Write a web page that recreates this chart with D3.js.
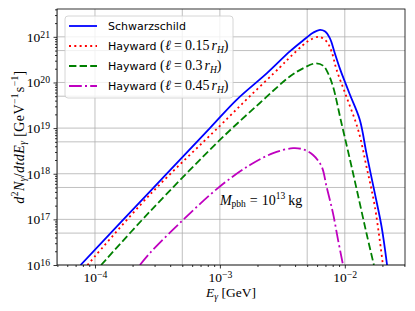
<!DOCTYPE html>
<html>
<head>
<meta charset="utf-8">
<script src="https://cdn.jsdelivr.net/npm/d3@7"></script>
<style>
  body { margin: 0; background: #fff; }
  svg text { fill: #000; }
</style>
</head>
<body>
<div id="chart"></div>
<script>
// photon spectra, E in GeV, d2N/dtdE in GeV^-1 s^-1
const schwE = [7.67e-5, 2.75e-4, 8.32e-4, 1.36e-3, 2.37e-3, 3.63e-3, 4.63e-3, 5.57e-3, 6.22e-3, 6.92e-3, 7.59e-3, 8.32e-3, 9.12e-3, 1.0e-2, 1.10e-2, 1.32e-2, 1.49e-2, 1.74e-2, 1.97e-2, 2.18e-2];
const schwN = [1e16, 4.07e17, 1e19, 4.17e19, 1.58e20, 4.79e20, 8.32e20, 1.23e21, 1.41e21, 1.32e21, 9.33e20, 4.37e20, 2.04e20, 1.05e20, 5.37e19, 1.51e19, 2.82e18, 3.72e17, 6.92e16, 1e16];

const hay015E = [8.71e-5, 2.75e-4, 1.0e-3, 1.74e-3, 3.02e-3, 3.63e-3, 4.63e-3, 5.25e-3, 6.22e-3, 7.14e-3, 7.83e-3, 8.59e-3, 1.03e-2, 1.28e-2, 1.49e-2, 1.74e-2, 2.02e-2];
const hay015N = [1e16, 3.47e17, 1.12e19, 5.01e19, 2.14e20, 3.55e20, 6.61e20, 8.51e20, 1.0e21, 7.94e20, 4.79e20, 1.91e20, 4.90e19, 9.12e18, 1.45e18, 1.91e17, 1e16];

const hay03E = [1.12e-4, 2.75e-4, 1.0e-3, 2.09e-3, 3.63e-3, 4.63e-3, 5.86e-3, 6.70e-3, 7.35e-3, 8.05e-3, 9.42e-3, 1.10e-2, 1.28e-2, 1.49e-2, 1.71e-2];
const hay03N = [1e16, 1.48e17, 5.50e18, 3.55e19, 1.35e20, 2.04e20, 2.63e20, 2.34e20, 1.58e20, 8.13e19, 1.26e19, 2.04e18, 3.24e17, 5.01e16, 1e16];

const hay045E = [2.29e-4, 2.75e-4, 5.08e-4, 1.0e-3, 1.74e-3, 2.67e-3, 3.85e-3, 4.68e-3, 5.57e-3, 6.52e-3, 7.14e-3, 8.05e-3, 8.83e-3, 9.68e-3];
const hay045N = [1e16, 1.82e16, 9.77e16, 5.25e17, 1.55e18, 2.82e18, 3.63e18, 3.39e18, 2.57e18, 1.45e18, 5.25e17, 1.35e17, 3.55e16, 1e16];

const seriesLabels = ["Schwarzschild", "0.15", "0.3", "0.45"];
const xTickExps = [-4, -3, -2];
const yTickExps = [16, 17, 18, 19, 20, 21];

const W = 415, H = 311;
const margin = {top: 9, right: 10, bottom: 46, left: 57};

const svg = d3.select("#chart").append("svg")
  .attr("width", W).attr("height", H)
  .style("font-family", "'Liberation Serif', serif");

const x = d3.scaleLog()
  .domain([Math.pow(10, -4.304), Math.pow(10, -1.518)])
  .range([margin.left, W - margin.right]);
const y = d3.scaleLog()
  .domain([1e16, Math.pow(10, 21.61)])
  .range([H - margin.bottom, margin.top]);

// decades and minor steps inside the domain
const minorsOf = (scale) => {
  const [a, b] = scale.domain();
  const out = [];
  for (let e = Math.floor(Math.log10(a)); e <= Math.ceil(Math.log10(b)); e++) {
    for (let m = 1; m < 10; m++) {
      const v = m * Math.pow(10, e);
      if (v >= a * 0.999 && v <= b * 1.001) out.push(v);
    }
  }
  return out;
};
const xAll = minorsOf(x), yAll = minorsOf(y);
const isMajor = v => Math.abs(Math.log10(v) - Math.round(Math.log10(v))) < 1e-9;
const isGrid = v => { const m = v / Math.pow(10, Math.floor(Math.log10(v) + 1e-9)); return Math.abs(m - 1) < 1e-6 || Math.abs(m - 5) < 1e-6; };

// grid at 1x and 5x each decade
svg.append("g").selectAll("line").data(xAll.filter(isGrid)).join("line")
  .attr("x1", d => x(d)).attr("x2", d => x(d))
  .attr("y1", margin.top).attr("y2", H - margin.bottom)
  .attr("stroke", "#b0b0b0").attr("stroke-width", 0.8);
svg.append("g").selectAll("line").data(yAll.filter(isGrid)).join("line")
  .attr("y1", d => y(d)).attr("y2", d => y(d))
  .attr("x1", margin.left).attr("x2", W - margin.right)
  .attr("stroke", "#b0b0b0").attr("stroke-width", 0.8);

// curves
svg.append("clipPath").attr("id", "clip").append("rect")
  .attr("x", margin.left).attr("y", margin.top)
  .attr("width", W - margin.left - margin.right)
  .attr("height", H - margin.top - margin.bottom);

const series = [
  {E: schwE, N: schwN, color: "#0000ff", dash: null},
  {E: hay015E, N: hay015N, color: "#ff0000", dash: "2,3.3"},
  {E: hay03E, N: hay03N, color: "#008000", dash: "7.4,3.2"},
  {E: hay045E, N: hay045N, color: "#bf00bf", dash: "12.8,3.2,2,3.2"}
];

const line = d3.line()
  .x(d => x(d[0])).y(d => y(d[1]))
  .curve(d3.curveCatmullRom.alpha(0.5));

svg.append("g").attr("clip-path", "url(#clip)")
  .selectAll("path").data(series).join("path")
    .attr("d", s => line(d3.zip(s.E, s.N)))
    .attr("fill", "none")
    .attr("stroke", s => s.color)
    .attr("stroke-width", 1.8)
    .attr("stroke-dasharray", s => s.dash);

// frame
svg.append("rect")
  .attr("x", margin.left).attr("y", margin.top)
  .attr("width", W - margin.left - margin.right)
  .attr("height", H - margin.top - margin.bottom)
  .attr("fill", "none").attr("stroke", "#000").attr("stroke-width", 0.8);

// axes: minor ticks, then major ticks with 10^n labels
const xAxisG = svg.append("g").attr("transform", `translate(0,${H - margin.bottom})`);
xAxisG.append("g").call(d3.axisBottom(x).tickValues(xAll.filter(v => !isMajor(v))).tickSize(2).tickFormat(() => ""));
xAxisG.append("g").call(d3.axisBottom(x).tickValues(xTickExps.map(e => Math.pow(10, e))).tickSize(3.5).tickPadding(3.5).tickFormat(() => ""));
xAxisG.selectAll(".domain").remove();
xAxisG.selectAll(".tick line").attr("stroke-width", 0.8);

const yAxisG = svg.append("g").attr("transform", `translate(${margin.left},0)`);
yAxisG.append("g").call(d3.axisLeft(y).tickValues(yAll.filter(v => !isMajor(v))).tickSize(2).tickFormat(() => ""));
yAxisG.append("g").call(d3.axisLeft(y).tickValues(yTickExps.map(e => Math.pow(10, e))).tickSize(3.5).tickPadding(3.5).tickFormat(() => ""));
yAxisG.selectAll(".domain").remove();
yAxisG.selectAll(".tick line").attr("stroke-width", 0.8);

const powLabel = (sel, fs) => sel.each(function(d) {
  const t = d3.select(this).text(null).style("font-family", "'Liberation Serif', serif").attr("font-size", fs);
  t.append("tspan").text("10");
  t.append("tspan").attr("dy", "-0.42em").attr("font-size", fs * 0.72)
    .text(String(Math.round(Math.log10(d))).replace("-", "\u2212"));
});
xAxisG.selectAll(".tick text").filter(d => isMajor(d)).call(powLabel, 13.5).attr("dy", "0.72em");
yAxisG.selectAll(".tick text").filter(d => isMajor(d)).call(powLabel, 13.5).attr("dy", "0.32em");

// axis titles
const xt = svg.append("text")
  .attr("x", (margin.left + W - margin.right) / 2).attr("y", 297)
  .attr("text-anchor", "middle").attr("font-size", 13.5);
xt.append("tspan").attr("font-style", "italic").text("E");
xt.append("tspan").attr("font-style", "italic").attr("font-size", 9.5).attr("dy", 2.5).text("γ");
xt.append("tspan").attr("dy", -2.5).text(" [GeV]");

const yt = svg.append("text")
  .attr("transform", `translate(23.5,${(margin.top + H - margin.bottom) / 2}) rotate(-90)`)
  .attr("text-anchor", "middle").attr("font-size", 14)
  .style("letter-spacing", "0.4px");
yt.append("tspan").attr("font-style", "italic").text("d");
yt.append("tspan").attr("font-size", 9.5).attr("dy", -5.5).text("2");
yt.append("tspan").attr("font-style", "italic").attr("dy", 5.5).text("N");
yt.append("tspan").attr("font-style", "italic").attr("font-size", 9.5).attr("dy", 2.5).text("γ");
yt.append("tspan").attr("dy", -2.5).text("/");
yt.append("tspan").attr("font-style", "italic").text("dtdE");
yt.append("tspan").attr("font-style", "italic").attr("font-size", 9.5).attr("dy", 2.5).text("γ");
yt.append("tspan").attr("dy", -2.5).text(" [GeV");
yt.append("tspan").attr("font-size", 9.5).attr("dy", -5.5).text("\u22121");
yt.append("tspan").attr("dy", 5.5).attr("dx", 1).text("s");
yt.append("tspan").attr("font-size", 9.5).attr("dy", -5.5).text("\u22121");
yt.append("tspan").attr("dy", 5.5).text("]");

// mass annotation
const ann = svg.append("text")
  .attr("x", x(1.0e-3)).attr("y", y(2.1e17))
  .attr("font-size", 14);
ann.append("tspan").attr("font-style", "italic").text("M");
ann.append("tspan").attr("font-size", 9.5).attr("dy", 2.5).text("pbh");
ann.append("tspan").attr("dy", -2.5).attr("dx", 4).text("=");
ann.append("tspan").attr("dx", 4).text("10");
ann.append("tspan").attr("font-size", 9.5).attr("dy", -5.5).text("13");
ann.append("tspan").attr("dy", 5.5).attr("dx", 3).text("kg");

// legend
const lg = svg.append("g").attr("transform", "translate(65,16)");
lg.append("rect").attr("width", 168).attr("height", 82).attr("rx", 3)
  .attr("fill", "#fff").attr("fill-opacity", 0.8)
  .attr("stroke", "#cccccc").attr("stroke-width", 0.8);
series.forEach((s, i) => {
  const ry = 10 + i * 20;
  lg.append("line").attr("x1", 4).attr("x2", 32).attr("y1", ry).attr("y2", ry)
    .attr("stroke", s.color).attr("stroke-width", 1.8)
    .attr("stroke-dasharray", s.dash);
  const t = lg.append("text").attr("x", 43).attr("y", ry + 4).attr("font-size", 11);
  if (i === 0) {
    t.append("tspan").style("font-family", "'DejaVu Sans', sans-serif").text(seriesLabels[0]);
  } else {
    t.append("tspan").style("font-family", "'DejaVu Sans', sans-serif").text("Hayward ");
    t.append("tspan").attr("font-size", 14).text("(");
    t.append("tspan").attr("font-size", 14).attr("dx", 0.5).attr("font-style", "italic").text("\u2113");
    t.append("tspan").attr("font-size", 14).attr("dx", 3).text("=");
    t.append("tspan").attr("font-size", 14).attr("dx", 3).text(seriesLabels[i]);
    t.append("tspan").attr("font-size", 14).attr("dx", 2).attr("font-style", "italic").text("r");
    t.append("tspan").attr("font-size", 9.5).attr("font-style", "italic").attr("dy", 2.5).text("H");
    t.append("tspan").attr("font-size", 14).attr("dy", -2.5).text(")");
  }
});
</script>
</body>
</html>
